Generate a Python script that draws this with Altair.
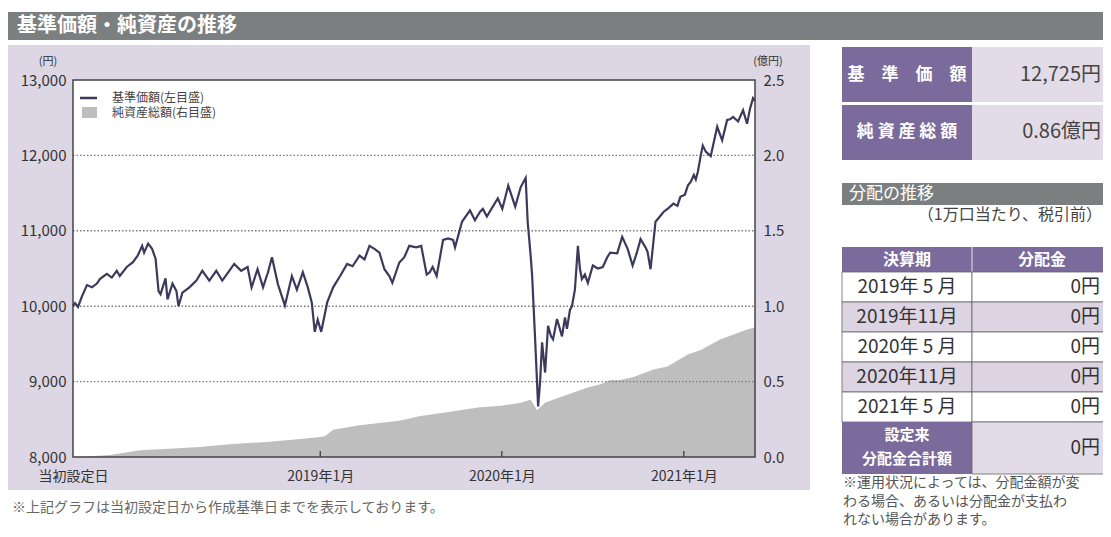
import altair as alt
import pandas as pd

FONT = "Noto Sans CJK JP"

# ---------------- data ----------------
nav_dates = [
    "2017-08-22", "2017-08-26", "2017-09-01", "2017-09-09", "2017-09-19", "2017-09-29",
    "2017-10-09", "2017-10-15", "2017-10-29", "2017-11-08", "2017-11-18", "2017-11-24",
    "2017-12-08", "2017-12-20", "2017-12-30", "2018-01-08", "2018-01-12", "2018-01-20",
    "2018-01-28", "2018-02-04", "2018-02-10", "2018-02-14", "2018-02-24", "2018-02-28",
    "2018-03-10", "2018-03-18", "2018-03-22", "2018-03-30", "2018-04-13", "2018-04-27",
    "2018-05-09", "2018-05-23", "2018-06-06", "2018-06-18", "2018-06-30", "2018-07-12",
    "2018-07-26", "2018-08-08", "2018-08-16", "2018-08-28", "2018-09-08", "2018-09-18",
    "2018-09-26", "2018-10-08", "2018-10-22", "2018-11-05", "2018-11-15", "2018-11-27",
    "2018-12-07", "2018-12-15", "2018-12-21", "2018-12-27", "2019-01-03", "2019-01-15",
    "2019-01-27", "2019-02-10", "2019-02-24", "2019-03-07", "2019-03-21", "2019-03-31",
    "2019-04-10", "2019-04-20", "2019-04-30", "2019-05-10", "2019-05-20", "2019-05-26",
    "2019-06-09", "2019-06-19", "2019-06-29", "2019-07-13", "2019-07-23", "2019-08-03",
    "2019-08-09", "2019-08-15", "2019-08-23", "2019-09-05", "2019-09-15", "2019-09-25",
    "2019-09-29", "2019-10-13", "2019-10-29", "2019-11-08", "2019-11-18", "2019-11-24",
    "2019-12-02", "2019-12-12", "2019-12-24", "2020-01-02", "2020-01-14", "2020-01-28",
    "2020-02-08", "2020-02-18", "2020-02-22", "2020-02-28", "2020-03-02", "2020-03-08",
    "2020-03-14", "2020-03-18", "2020-03-22", "2020-03-28", "2020-04-03", "2020-04-09",
    "2020-04-13", "2020-04-21", "2020-05-01", "2020-05-07", "2020-05-11", "2020-05-17",
    "2020-05-21", "2020-05-27", "2020-06-02", "2020-06-06", "2020-06-10", "2020-06-16",
    "2020-06-22", "2020-07-02", "2020-07-12", "2020-07-22", "2020-07-31", "2020-08-06",
    "2020-08-20", "2020-08-30", "2020-09-10", "2020-09-20", "2020-09-28", "2020-10-06",
    "2020-10-16", "2020-10-20", "2020-10-26", "2020-11-05", "2020-11-15", "2020-11-21",
    "2020-12-01", "2020-12-11", "2020-12-19", "2020-12-25", "2021-01-03", "2021-01-09",
    "2021-01-15", "2021-01-21", "2021-01-25", "2021-01-29", "2021-02-04", "2021-02-08",
    "2021-02-14", "2021-02-24", "2021-03-03", "2021-03-09", "2021-03-19", "2021-03-29",
    "2021-04-04", "2021-04-10", "2021-04-20", "2021-04-30", "2021-05-08", "2021-05-14",
    "2021-05-20", "2021-05-24",
]
nav_values = [
    10000, 10040, 9990, 10130, 10280, 10250,
    10300, 10360, 10430, 10380, 10470, 10400,
    10520, 10580, 10670, 10800, 10710, 10830,
    10760, 10630, 10200, 10160, 10370, 10090,
    10300, 10200, 10000, 10180, 10250, 10340,
    10470, 10340, 10470, 10340, 10450, 10560,
    10470, 10520, 10250, 10490, 10250, 10450,
    10650, 10290, 10010, 10400, 10220, 10450,
    10250, 10050, 9660, 9820, 9660, 10050,
    10250, 10400, 10560, 10530, 10670, 10620,
    10800, 10760, 10710, 10490, 10400, 10310,
    10580, 10650, 10800, 10780, 10800, 10420,
    10450, 10520, 10400, 10880, 10900, 10880,
    10780, 11120, 11270, 11140, 11250, 11290,
    11190, 11300, 11430, 11290, 11600, 11320,
    11580, 11700, 11120, 10670, 10400, 9560,
    8670, 9000, 9520, 9120, 9740, 9600,
    9560, 9830, 9600, 9850, 9700, 9950,
    10000, 10220, 10800, 10500, 10360, 10420,
    10310, 10540, 10500, 10520, 10650, 10710,
    10700, 10920, 10760, 10540, 10700, 10890,
    10780, 10720, 10490, 11120, 11200, 11250,
    11300, 11360, 11330, 11450, 11480, 11600,
    11650, 11740, 11680, 11780, 12000, 12130,
    12050, 11990, 12200, 12380, 12200, 12470,
    12480, 12510, 12450, 12600, 12420, 12620,
    12760, 12725,
]

aum_dates = [
    "2017-08-22", "2017-08-30", "2017-09-25", "2017-11-04", "2018-01-04", "2018-03-04",
    "2018-05-03", "2018-07-03", "2018-09-16", "2018-11-22", "2019-01-01", "2019-01-11",
    "2019-01-27", "2019-03-21", "2019-06-09", "2019-07-19", "2019-09-19", "2019-11-18",
    "2019-12-30", "2020-02-08", "2020-02-28", "2020-03-12", "2020-03-28", "2020-04-13",
    "2020-05-17", "2020-06-20", "2020-07-16", "2020-08-06", "2020-08-26", "2020-09-22",
    "2020-11-01", "2020-11-29", "2021-01-09", "2021-02-04", "2021-03-15", "2021-04-10",
    "2021-05-04", "2021-05-24",
]
aum_values = [
    0.0, 0.0, 0.005, 0.013, 0.045, 0.055,
    0.067, 0.085, 0.10, 0.12, 0.133, 0.14,
    0.18, 0.21, 0.24, 0.27, 0.30, 0.33,
    0.34, 0.36, 0.38, 0.31, 0.36, 0.38,
    0.42, 0.46, 0.48, 0.51, 0.51, 0.53,
    0.58, 0.60, 0.68, 0.71, 0.78, 0.81,
    0.84, 0.86,
]

x_start = "2017-08-22"
x_end = "2021-05-24"
year_ticks = ["2019-01-01", "2020-01-01", "2021-01-01"]
left_ticks = [8000, 9000, 10000, 11000, 12000, 13000]
grid_values = [9000, 10000, 11000, 12000]
right_ticks = [0.0, 0.5, 1.0, 1.5, 2.0, 2.5]

summary_labels = ["基　準　価　額", "純 資 産 総 額"]
summary_values = ["12,725円", "0.86億円"]

dist_periods = ["2019年 5 月", "2019年11月", "2020年 5 月", "2020年11月", "2021年 5 月"]
dist_amounts = ["0円", "0円", "0円", "0円", "0円"]
dist_total = ["0円"]

# ---------------- colours ----------------
BANNER = "#7b7f7f"
PANEL = "#ddd6e4"
PURPLE = "#7a6b9c"
LAV = "#e2dbe8"
ROWLAV = "#dcd4e2"
LINE = "#3b3a5c"
AREA = "#bebebe"
TXT = "#333333"

# ---------------- layout (page pixel helpers) ----------------
L, T, W, H = 73, 80, 682, 377


def px(x):
    return x - L


def py(y):
    return y - T


def dt(s):
    y, m, d = map(int, s.split("-"))
    return alt.DateTime(year=y, month=m, date=d, utc=True)


one = pd.DataFrame({"k": [0]})


def box(x1, y1, x2, y2, color, **kw):
    return alt.Chart(one).mark_rect(color=color, **kw).encode(
        x=alt.value(px(x1)), x2=alt.value(px(x2)),
        y=alt.value(py(y1)), y2=alt.value(py(y2)))


def txt(s, x, y, size, color=TXT, align="left", weight="normal"):
    return alt.Chart(one).mark_text(
        text=s, font=FONT, fontSize=size, color=color, align=align,
        baseline="middle", fontWeight=weight).encode(
        x=alt.value(px(x)), y=alt.value(py(y)))


# ---------------- main chart ----------------
xscale = alt.Scale(domain=[dt(x_start), dt(x_end)], nice=False)
xaxis = alt.Axis(
    values=[dt(x_start)] + [dt(s) for s in year_ticks],
    labelExpr="utcyear(datum.value) < 2018 ? '当初設定日' : utcFormat(datum.value, '%Y') + '年1月'",
    labelFlush=False, ticks=False, domain=False, grid=False, zindex=2,
    labelFont=FONT, labelFontSize=14, labelColor=TXT, labelPadding=12)

aum_df = pd.DataFrame({"date": aum_dates, "aum": aum_values})
nav_df = pd.DataFrame({"date": nav_dates, "nav": nav_values})
tick_df = pd.DataFrame({"date": year_ticks})
grid_df = pd.DataFrame({"v": grid_values})

nav_scale = alt.Scale(domain=[8000, 13000], nice=False, zero=False)

area = alt.Chart(aum_df).mark_area(color=AREA, opacity=1).encode(
    x=alt.X("date:T", scale=xscale, axis=xaxis, title=None),
    y=alt.Y("aum:Q", title=None,
            scale=alt.Scale(domain=[0, 2.5], nice=False, zero=True),
            axis=alt.Axis(orient="right", values=right_ticks, format=".1f",
                          grid=False, ticks=False, domain=False, zindex=2,
                          labelFont=FONT, labelFontSize=15, labelColor=TXT,
                          labelPadding=8)))

grid = alt.Chart(grid_df).mark_rule(color="#7a7a7a", strokeWidth=1.4,
                                    strokeDash=[1.5, 2]).encode(
    y=alt.Y("v:Q", scale=nav_scale, axis=None, title=None),
    x=alt.value(0), x2=alt.value(W))

line = alt.Chart(nav_df).mark_line(color=LINE, strokeWidth=2.2).encode(
    x=alt.X("date:T", scale=xscale, axis=xaxis, title=None),
    y=alt.Y("nav:Q", title=None, scale=nav_scale,
            axis=alt.Axis(orient="left", values=left_ticks, format=",.0f",
                          grid=False, ticks=False, domain=False, zindex=2,
                          labelFont=FONT, labelFontSize=15, labelColor=TXT,
                          labelPadding=7)))

xticks = alt.Chart(tick_df).mark_rule(color="#333", strokeWidth=1.2).encode(
    x=alt.X("date:T", scale=xscale, axis=xaxis, title=None),
    y=alt.value(H), y2=alt.value(H - 6))

border = alt.Chart(one).mark_rect(filled=False, color="#444", strokeWidth=1.5).encode(
    x=alt.value(0), x2=alt.value(W), y=alt.value(0), y2=alt.value(H))

leg_line = alt.Chart(one).mark_rule(color=LINE, strokeWidth=2.5).encode(
    x=alt.value(px(80)), x2=alt.value(px(97)), y=alt.value(py(98)))
leg_box = box(82, 107, 97, 118, AREA)

# ---------------- table 1 ----------------
sum_df = pd.DataFrame({"label": summary_labels, "value": summary_values})
sum_y = alt.Y("label:N", sort=None, title=None, axis=None,
              scale=alt.Scale(domain=summary_labels, range=[py(47), py(160)],
                              paddingInner=0.05, paddingOuter=0))
sum_head = alt.Chart(sum_df).mark_rect(color=PURPLE).encode(
    x=alt.value(px(842)), x2=alt.value(px(972)), y=sum_y)
sum_cell = alt.Chart(sum_df).mark_rect(color=LAV).encode(
    x=alt.value(px(972)), x2=alt.value(px(1111)), y=sum_y)
sum_lab = alt.Chart(sum_df).mark_text(
    font=FONT, fontSize=17, color="white", fontWeight="bold", align="center").encode(
    x=alt.value(px(907)), y=sum_y, text="label:N")
sum_val = alt.Chart(sum_df).mark_text(
    font=FONT, fontSize=20, color="#444", align="right").encode(
    x=alt.value(px(1101)), y=sum_y, text="value:N")

# ---------------- table 2 ----------------
dist_df = pd.DataFrame({"period": dist_periods, "amount": dist_amounts})
dist_y = alt.Y("period:N", sort=None, title=None, axis=None,
               scale=alt.Scale(domain=dist_periods, range=[py(272), py(422)],
                               paddingInner=0, paddingOuter=0))
row_fill = alt.condition("datum.rn % 2 == 0", alt.value(ROWLAV), alt.value("white"))
dist_left = alt.Chart(dist_df).transform_window(rn="row_number()").mark_rect(
    stroke="#666", strokeWidth=0.8).encode(
    x=alt.value(px(842)), x2=alt.value(px(972)), y=dist_y, fill=row_fill)
dist_right = alt.Chart(dist_df).transform_window(rn="row_number()").mark_rect(
    stroke="#666", strokeWidth=0.8).encode(
    x=alt.value(px(972)), x2=alt.value(px(1111)), y=dist_y, fill=row_fill)
dist_lab = alt.Chart(dist_df).mark_text(
    font=FONT, fontSize=19, color=TXT, align="center").encode(
    x=alt.value(px(907)), y=dist_y, text="period:N")
dist_val = alt.Chart(dist_df).mark_text(
    font=FONT, fontSize=19, color=TXT, align="right").encode(
    x=alt.value(px(1100)), y=dist_y, text="amount:N")

total_df = pd.DataFrame({"total": dist_total})
total_val = alt.Chart(total_df).mark_text(
    font=FONT, fontSize=19, color=TXT, align="right", baseline="middle").encode(
    x=alt.value(px(1100)), y=alt.value(py(448)), text="total:N")

header_div = alt.Chart(one).mark_rule(color="#e8e2ee", strokeWidth=1).encode(
    x=alt.value(px(972)), y=alt.value(py(247)), y2=alt.value(py(272)))

layers = [
    box(8, 12, 1111, 40, BANNER),
    txt("基準価額・純資産の推移", 17, 26, 20, "white", weight="bold"),
    box(8, 45, 810, 490, PANEL),
    box(L, T, L + W, T + H, "white"),
    area, grid, line, xticks, border,
    leg_line, leg_box,
    txt("基準価額(左目盛)", 112, 98, 12, "#444"),
    txt("純資産総額(右目盛)", 112, 113, 12, "#444"),
    txt("(円)", 48, 62, 11, TXT, align="center"),
    txt("(億円)", 768, 62, 11, TXT, align="center"),
    txt("※上記グラフは当初設定日から作成基準日までを表示しております。", 12, 508, 14, "#666"),
    sum_head, sum_cell, sum_lab, sum_val,
    box(842, 183, 1111, 205, BANNER),
    txt("分配の推移", 849, 194, 17, "white"),
    txt("（1万口当たり、税引前）", 1102, 215, 16, "#444", align="right"),
    box(842, 247, 1111, 272, PURPLE),
    header_div,
    txt("決算期", 907, 259.5, 16, "white", align="center", weight="bold"),
    txt("分配金", 1042, 259.5, 16, "white", align="center", weight="bold"),
    dist_left, dist_right, dist_lab, dist_val,
    box(842, 422, 972, 474, PURPLE),
    box(972, 422, 1111, 474, LAV, stroke="#666", strokeWidth=0.8),
    txt("設定来", 907, 435, 15, "white", align="center", weight="bold"),
    txt("分配金合計額", 907, 459, 15, "white", align="center", weight="bold"),
    total_val,
    txt("※運用状況によっては、分配金額が変", 843, 483, 14, "#555"),
    txt("　わる場合、あるいは分配金が支払わ", 843, 502, 14, "#555"),
    txt("　れない場合があります。", 843, 520, 14, "#555"),
]

chart = alt.layer(*layers).resolve_scale(y="independent").properties(
    width=W, height=H,
    autosize=alt.AutoSizeParams(type="none"),
    padding={"left": 65, "top": 72, "right": 348, "bottom": 72},
    background="white",
).configure_view(strokeWidth=0)

chart.save("out.html", embed_options={"renderer": "svg", "actions": False})
